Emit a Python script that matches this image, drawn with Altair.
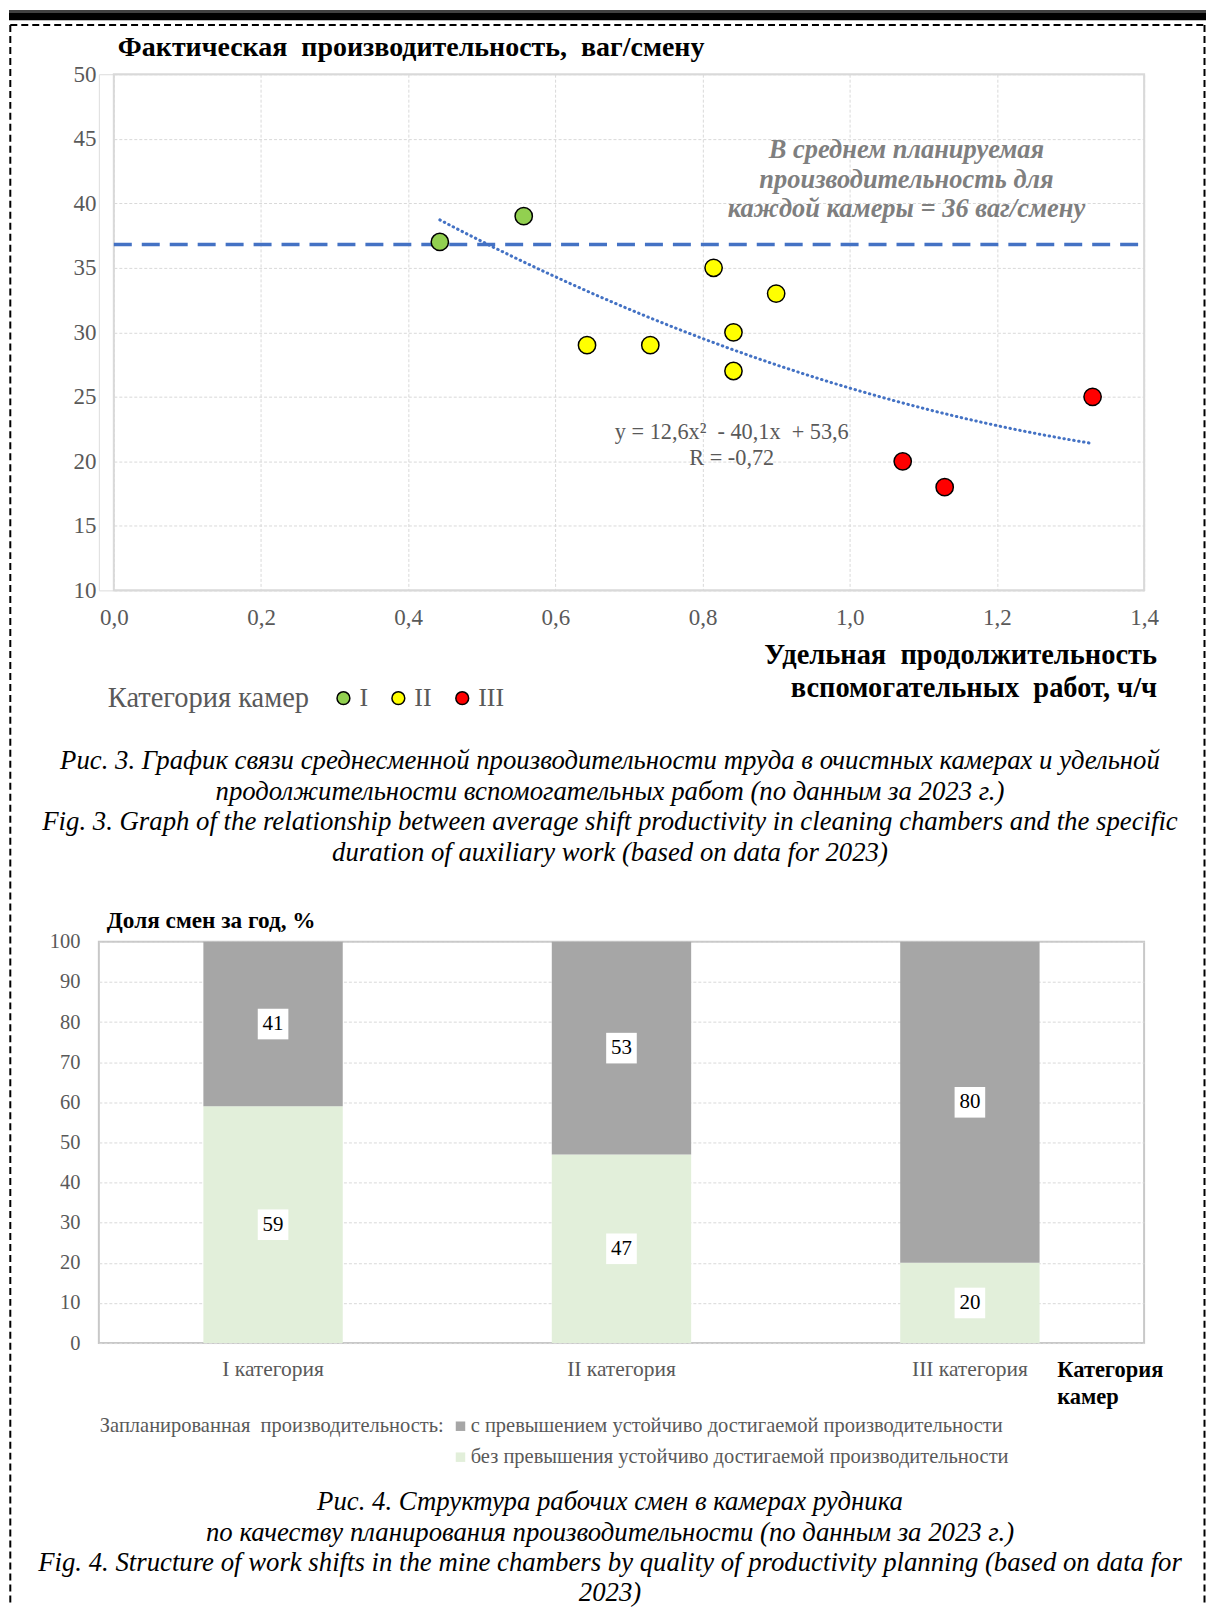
import altair as alt
import pandas as pd

SERIF = "Liberation Serif"
GRAY_TXT = "#595959"
NB = "\u00a0"

# ---------------- Figure 3 data ----------------
chamber_cat = ["I", "I", "II", "II", "II", "II", "II", "II", "III", "III", "III"]
aux_duration = [0.443, 0.557, 0.643, 0.729, 0.815, 0.842, 0.842, 0.900, 1.072, 1.129, 1.330]
productivity = [37, 39, 29, 29, 35, 30, 27, 33, 20, 18, 25]
cat_domain = ["I", "II", "III"]
cat_colors = ["#92D050", "#FFFF00", "#FF0000"]
plan_level = [36.8]
x_ticks = [0.0, 0.2, 0.4, 0.6, 0.8, 1.0, 1.2, 1.4]
y_ticks = [10, 15, 20, 25, 30, 35, 40, 45, 50]
trend_extent = [0.443, 1.33]

title1 = "Фактическая " + NB + "производительность, " + NB + "ваг/смену"
xtitle1 = ["Удельная " + NB + "продолжительность", "вспомогательных " + NB + "работ, ч/ч"]
note1 = ["В среднем планируемая", "производительность для", "каждой камеры = 36 ваг/смену"]
eq_lines = ["y = 12,6x² " + NB + "- 40,1x " + NB + "+ 53,6", "R = -0,72"]
legend1_title = "Категория камер"
caption1 = [
    "Рис. 3. График связи среднесменной производительности труда в очистных камерах и удельной",
    "продолжительности вспомогательных работ (по данным за 2023 г.)",
    "Fig. 3. Graph of the relationship between average shift productivity in cleaning chambers and the specific",
    "duration of auxiliary work (based on data for 2023)",
]

# ---------------- Figure 4 data ----------------
categories = ["I категория", "II категория", "III категория"]
share_over = [41, 53, 80]
share_under = [59, 47, 20]
series_names = [
    "с превышением устойчиво достигаемой производительности",
    "без превышения устойчиво достигаемой производительности",
]
series_colors = ["#A6A6A6", "#E2EFDA"]
y2_ticks = [0, 10, 20, 30, 40, 50, 60, 70, 80, 90, 100]
title2 = "Доля смен за год, %"
xtitle2 = ["Категория", "камер"]
legend2_title = "Запланированная " + NB + "производительность:"
caption2 = [
    "Рис. 4. Структура рабочих смен в камерах рудника",
    "по качеству планирования производительности (по данным за 2023 г.)",
    "Fig. 4. Structure of work shifts in the mine chambers by quality of productivity planning (based on data for",
    "2023)",
]

W = 1047
H1 = 517
H2 = 402

one = pd.DataFrame({"k": [0]})

# ---------------- Chart 1 ----------------
df1 = pd.DataFrame({"dur": aux_duration, "prod": productivity, "cat": chamber_cat})
xs = alt.Scale(domain=[0, 1.4], range=[15, W], nice=False, zero=False)
ys = alt.Scale(domain=[10, 50], nice=False, zero=False)

axis_x1 = alt.Axis(values=x_ticks, labelExpr="replace(format(datum.value, '.1f'), '.', ',')",
                   grid=True, gridColor="#d9d9d9", gridDash=[3, 2], gridWidth=1, labelFlush=False,
                   domain=False, ticks=False, labelFont=SERIF, labelFontSize=23,
                   labelColor=GRAY_TXT, labelPadding=16, title=None)
axis_y1 = alt.Axis(values=y_ticks, grid=True, gridColor="#d9d9d9", gridDash=[3, 2], gridWidth=1,
                   domain=False, ticks=False, labelFont=SERIF, labelFontSize=23, labelFlush=False,
                   labelColor=GRAY_TXT, labelPadding=3, title=None)

frame1 = alt.Chart(pd.DataFrame({"x0": [0.0], "x1": [1.4], "y0": [10], "y1": [50]})).mark_rect(
    fillOpacity=0, stroke="#d9d9d9", strokeWidth=2
).encode(x=alt.X("x0:Q", scale=xs, axis=axis_x1), x2="x1:Q",
         y=alt.Y("y0:Q", scale=ys, axis=axis_y1), y2="y1:Q")

plan = alt.Chart(pd.DataFrame({"x0": [0.0], "x1": [1.4], "lvl": plan_level})).mark_rule(
    color="#4472C4", strokeWidth=3.5, strokeDash=[18, 10]
).encode(x=alt.X("x0:Q", scale=xs), x2="x1:Q", y=alt.Y("lvl:Q", scale=ys))

trend = alt.Chart(df1).transform_regression(
    "dur", "prod", method="poly", order=2, extent=trend_extent
).mark_line(color="#4472C4", strokeWidth=3, strokeDash=[0.5, 4.5], strokeCap="round").encode(
    x=alt.X("dur:Q", scale=xs), y=alt.Y("prod:Q", scale=ys))

pts = alt.Chart(df1).mark_circle(size=300, opacity=1, stroke="black", strokeWidth=1.5).encode(
    x=alt.X("dur:Q", scale=xs),
    y=alt.Y("prod:Q", scale=ys),
    color=alt.Color("cat:N", scale=alt.Scale(domain=cat_domain, range=cat_colors),
                    legend=alt.Legend(orient="none", legendX=9, legendY=612, direction="horizontal",
                                      title=legend1_title, titleOrient="left", titleFont=SERIF,
                                      titleFontSize=28.5, titleFontWeight="normal", titleColor=GRAY_TXT,
                                      titlePadding=21, titleLimit=1000, labelFont=SERIF, labelFontSize=26,
                                      labelColor=GRAY_TXT, symbolType="circle", symbolSize=165,
                                      symbolStrokeColor="black", symbolStrokeWidth=1.5,
                                      symbolOpacity=1, labelOffset=3, columnPadding=17)),
)

t_title1 = alt.Chart(one).mark_text(text=title1, align="left", baseline="alphabetic", font=SERIF,
                                    fontSize=28, fontWeight="bold", color="black").encode(
    x=alt.value(19), y=alt.value(-18))
t_xtitle1 = alt.Chart(one).mark_text(text=xtitle1, align="right", baseline="middle", font=SERIF,
                                     fontSize=28.5, fontWeight="bold", color="black", lineHeight=33).encode(
    x=alt.value(1060), y=alt.value(582))
t_note1 = alt.Chart(one).mark_text(text=note1, align="center", baseline="middle", font=SERIF,
                                   fontSize=26.5, fontWeight="bold", fontStyle="italic", color="#7f7f7f",
                                   lineHeight=29.5).encode(x=alt.value(809), y=alt.value(76))
t_eq = alt.Chart(one).mark_text(text=eq_lines, align="center", baseline="middle", font=SERIF,
                                fontSize=22.3, color=GRAY_TXT, lineHeight=26).encode(
    x=alt.value(634), y=alt.value(358))
t_cap1 = alt.Chart(one).mark_text(text=caption1, align="center", baseline="middle", font=SERIF,
                                  fontSize=26.8, fontStyle="italic", color="black", lineHeight=30.7).encode(
    x=alt.value(512), y=alt.value(688))

# page decorations (pixel positions relative to chart 1 plot origin)
bar_thin = alt.Chart(one).mark_rect(color="black").encode(
    x=alt.value(-90), x2=alt.value(1109), y=alt.value(-64), y2=alt.value(-62.5))
bar_thick = alt.Chart(one).mark_rect(color="black").encode(
    x=alt.value(-90), x2=alt.value(1109), y=alt.value(-62), y2=alt.value(-54))
b_top = alt.Chart(one).mark_rule(color="black", strokeWidth=2, strokeDash=[7, 4]).encode(
    x=alt.value(-88.7), x2=alt.value(1107.5), y=alt.value(-49.3))
b_left = alt.Chart(one).mark_rule(color="black", strokeWidth=2, strokeDash=[7, 4]).encode(
    x=alt.value(-88.7), y=alt.value(-49.3), y2=alt.value(1532))
b_right = alt.Chart(one).mark_rule(color="black", strokeWidth=2, strokeDash=[7, 4]).encode(
    x=alt.value(1107.5), y=alt.value(-49.3), y2=alt.value(1532))

chart1 = alt.layer(frame1, plan, trend, pts, t_title1, t_xtitle1, t_note1, t_eq, t_cap1,
                   bar_thin, bar_thick, b_top, b_left, b_right).properties(width=W, height=H1)

# ---------------- Chart 2 ----------------
rows = []
for c, o, u in zip(categories, share_over, share_under):
    rows.append({"cat": c, "series": series_names[1], "val": u, "ord": 0})
    rows.append({"cat": c, "series": series_names[0], "val": o, "ord": 1})
df2 = pd.DataFrame(rows)

xb = alt.Scale(domain=categories, paddingInner=0.6, paddingOuter=0.3)
yb = alt.Scale(domain=[0, 100], nice=False)

axis_x2 = alt.Axis(title=None, labelAngle=0, domain=False, ticks=False, grid=False,
                   labelFont=SERIF, labelFontSize=21.5, labelColor=GRAY_TXT, labelPadding=15)
axis_y2 = alt.Axis(title=None, values=y2_ticks, domain=False, ticks=False, grid=True,
                   gridColor="#d9d9d9", gridDash=[3, 2], labelFont=SERIF, labelFontSize=20.5,
                   labelColor=GRAY_TXT, labelPadding=19, labelFlush=False)

bars = alt.Chart(df2).mark_bar(opacity=1).encode(
    x=alt.X("cat:N", sort=categories, scale=xb, axis=axis_x2),
    y=alt.Y("val:Q", stack="zero", scale=yb, axis=axis_y2),
    color=alt.Color("series:N", scale=alt.Scale(domain=series_names, range=series_colors),
                    legend=alt.Legend(orient="none", legendX=1, legendY=475, direction="vertical",
                                      title=legend2_title, titleOrient="left", titleAnchor="start",
                                      titleFont=SERIF,
                                      titleFontSize=20.5, titleFontWeight="normal", titleColor=GRAY_TXT,
                                      titlePadding=6, titleLimit=1000, labelLimit=1000,
                                      labelFont=SERIF, labelFontSize=20.5, labelColor=GRAY_TXT,
                                      symbolType="square", symbolSize=90, symbolStrokeWidth=0,
                                      symbolOpacity=1, labelOffset=0, rowPadding=10)),
    order=alt.Order("ord:Q"),
)

lab_base = alt.Chart(df2).transform_stack(
    stack="val", as_=["v0", "v1"], groupby=["cat"], sort=[alt.SortField("ord")]
).transform_calculate(mid="(datum.v0 + datum.v1) / 2")

lab_box = lab_base.mark_square(size=940, color="white", opacity=1).encode(
    x=alt.X("cat:N", sort=categories, scale=xb), y=alt.Y("mid:Q", scale=yb))
lab_txt = lab_base.mark_text(font=SERIF, fontSize=21, color="black", baseline="middle").encode(
    x=alt.X("cat:N", sort=categories, scale=xb), y=alt.Y("mid:Q", scale=yb), text="val:Q")

t_title2 = alt.Chart(one).mark_text(text=title2, align="left", baseline="middle", font=SERIF,
                                    fontSize=23.3, fontWeight="bold", color="black").encode(
    x=alt.value(8), y=alt.value(-21))
t_xtitle2 = alt.Chart(one).mark_text(text=xtitle2, align="left", baseline="middle", font=SERIF,
                                     fontSize=22.5, fontWeight="bold", color="black", lineHeight=27).encode(
    x=alt.value(960), y=alt.value(428.5))
t_cap2 = alt.Chart(one).mark_text(text=caption2, align="center", baseline="middle", font=SERIF,
                                  fontSize=26.8, fontStyle="italic", color="black", lineHeight=30.4).encode(
    x=alt.value(512), y=alt.value(561.5))

chart2 = alt.layer(bars, lab_box, lab_txt, t_title2, t_xtitle2, t_cap2).properties(
    width=W, height=H2, view=alt.ViewBackground(stroke="#c8c8c8", strokeWidth=2))

chart = alt.vconcat(chart1, chart2, spacing=352, bounds="flush").resolve_scale(
    color="independent"
).resolve_legend(color="independent").properties(
    padding=0
).configure_view(strokeWidth=0).configure(font=SERIF)

chart.save("out.html", embed_options={"renderer": "svg", "actions": False})
